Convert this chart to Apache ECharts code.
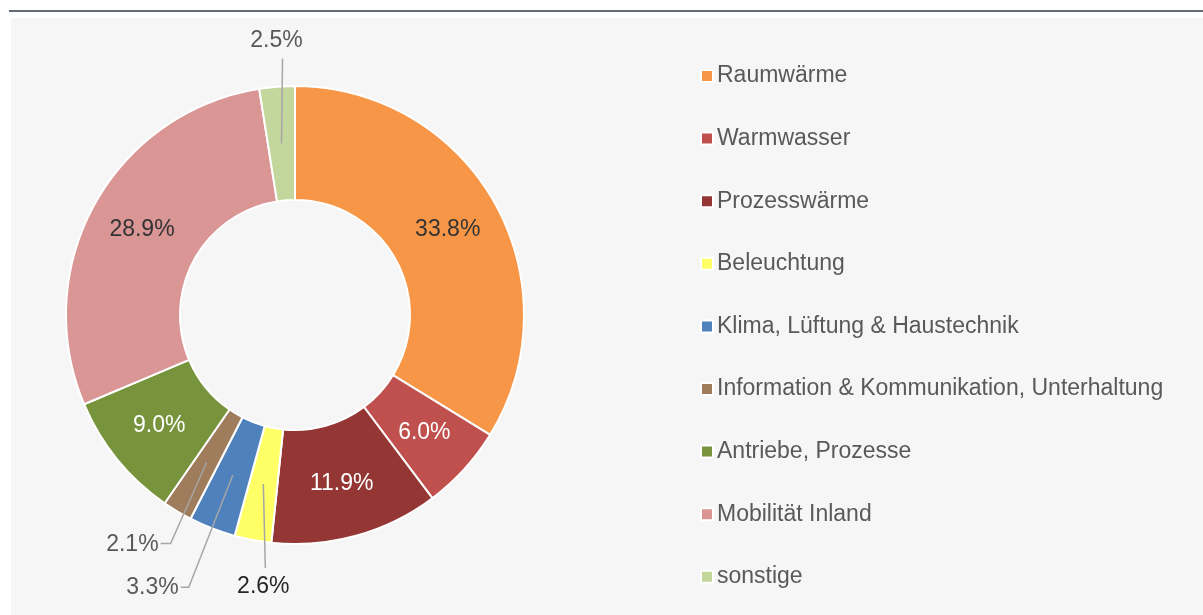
<!DOCTYPE html>
<html>
<head>
<meta charset="utf-8">
<script src="https://cdn.jsdelivr.net/npm/echarts@6/dist/echarts.min.js"></script>
<style>
  html, body { margin: 0; padding: 0; background: #ffffff; }
  #topline { position: absolute; left: 9px; top: 10px; width: 1194px; height: 2px; background: #656b74; }
  #panel { position: absolute; left: 11px; top: 18px; width: 1192px; height: 597px; background: #f6f6f6; }
  #chart { position: absolute; left: 0; top: 0; width: 1203px; height: 615px; }
</style>
</head>
<body>
<div id="topline"></div>
<div id="panel"></div>
<div id="chart"></div>
<script>
// ---- data ----
const categories = [
  'Raumwärme',
  'Warmwasser',
  'Prozesswärme',
  'Beleuchtung',
  'Klima, Lüftung & Haustechnik',
  'Information & Kommunikation, Unterhaltung',
  'Antriebe, Prozesse',
  'Mobilität Inland',
  'sonstige'
];
const shares = [33.8, 6.0, 11.9, 2.6, 3.3, 2.1, 9.0, 28.9, 2.5];
const colors = ['#f79646', '#c0504d', '#943634', '#ffff66', '#4f81bd', '#9e7c5c', '#77933c', '#d99694', '#c3d69b'];

// ---- styling of labels ----
const insideLabelColor = ['#333333', '#ffffff', '#ffffff', null, null, null, '#ffffff', '#333333', null];
// outside labels: leader-line offsets relative to the slice anchor point
const outsideLabels = {
  3: { line: [2, 84, 0], lab: [-2, 19], align: 'center', color: '#262626' },
  4: { line: [-44, 112, -8], lab: [-2, 0], align: 'right', color: '#595959' },
  5: { line: [-36, 81, -10], lab: [-2, 1], align: 'right', color: '#595959' },
  8: { line: [1, -85, 0], lab: [-6, -18], align: 'center', color: '#595959' }
};

const FONT = 'Liberation Sans';
const FS = 23;
const cx = 295, cy = 315, r0 = 115, r1 = 229, rMid = 172;

const mainData = categories.map((name, i) => ({
  name: name,
  value: shares[i],
  itemStyle: { color: colors[i] },
  label: insideLabelColor[i] ? { show: true, color: insideLabelColor[i] } : { show: false }
}));

const overlayData = categories.map((name, i) => ({
  name: name,
  value: shares[i],
  label: outsideLabels[i] ? { show: true, color: outsideLabels[i].color } : { show: false },
  labelLine: { show: !!outsideLabels[i] }
}));

const chart = echarts.init(document.getElementById('chart'), null, { renderer: 'canvas' });
chart.setOption({
  animation: false,
  backgroundColor: 'transparent',
  textStyle: { fontFamily: FONT },
  legend: {
    orient: 'vertical',
    left: 700,
    top: 64,
    padding: 0,
    icon: 'rect',
    itemWidth: 12,
    itemHeight: 12,
    itemGap: 38.6,
    data: categories,
    selectedMode: false,
    textStyle: { fontFamily: FONT, fontSize: FS, color: '#595959', lineHeight: 24, padding: [0, 0, 0, -1] }
  },
  series: [
    {
      type: 'pie',
      name: 'main',
      z: 2,
      center: [cx, cy],
      radius: [r0, r1],
      startAngle: 90,
      clockwise: true,
      avoidLabelOverlap: false,
      silent: true,
      itemStyle: { borderColor: '#ffffff', borderWidth: 2 },
      label: {
        position: 'inside',
        fontFamily: FONT,
        fontSize: FS,
        formatter: (p) => p.value.toFixed(1) + '%'
      },
      labelLine: { show: false },
      data: mainData
    },
    {
      type: 'pie',
      name: 'overlay',
      z: 5,
      center: [cx, cy],
      radius: [0, rMid],
      startAngle: 90,
      clockwise: true,
      avoidLabelOverlap: false,
      silent: true,
      legendHoverLink: false,
      itemStyle: { color: 'rgba(0,0,0,0)', borderWidth: 0 },
      label: {
        position: 'outside',
        fontFamily: FONT,
        fontSize: FS,
        formatter: (p) => p.value.toFixed(1) + '%'
      },
      labelLine: { length: 10, length2: 10, lineStyle: { color: '#a6a6a6', width: 1.5 } },
      labelLayout: function (params) {
        const cfg = outsideLabels[params.dataIndex];
        if (!cfg || !params.labelLinePoints) return {};
        const p0 = params.labelLinePoints[0];
        const p1 = [p0[0] + cfg.line[0], p0[1] + cfg.line[1]];
        const p2 = [p1[0] + cfg.line[2], p1[1]];
        return {
          x: p2[0] + cfg.lab[0],
          y: p2[1] + cfg.lab[1],
          align: cfg.align,
          verticalAlign: 'middle',
          labelLinePoints: [p0, p1, p2]
        };
      },
      data: overlayData
    }
  ]
});
</script>
</body>
</html>
